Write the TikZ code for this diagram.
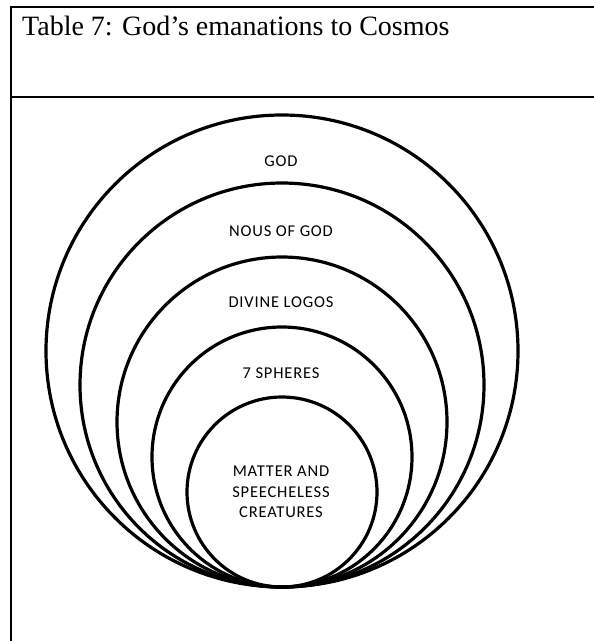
\documentclass[tikz,border=0pt]{standalone}
\usepackage{fontspec}
\setmainfont{Liberation Serif}
\newfontfamily\labelfont[LetterSpace=5]{Carlito}
\begin{document}
\begin{tikzpicture}[x=1pt,y=-1pt,
  frameline/.style={line width=2pt},
  ring/.style={line width=3.2pt},
  lbl/.style={font=\labelfont\fontsize{16.5}{20}\selectfont, align=center, inner sep=0pt}]
\useasboundingbox (0,0) rectangle (594,641);
% table frame
\draw[frameline] (594,7) -- (11,7) -- (11,641);
\draw[frameline] (11,97) -- (594,97);
\node[anchor=base west, inner sep=0pt, font=\fontsize{28}{30}\selectfont] (title) at (22,35) {Table 7: God’s emanations to Cosmos};
% concentric tangent circles
\foreach \r in {236,202,165,130,95}{
  \draw[ring] (282,587-\r) circle[radius=\r pt];
}
\node[lbl] (god) at (281,161) {GOD};
\node[lbl] (nous) at (281,231) {NOUS OF GOD};
\node[lbl] (logos) at (281,302) {DIVINE LOGOS};
\node[lbl] (spheres) at (281,373) {7 SPHERES};
\node[lbl, font=\labelfont\fontsize{16.5}{20.5}\selectfont] (matter) at (281,492) {MATTER AND\\SPEECHELESS\\CREATURES};
\end{tikzpicture}
\end{document}
